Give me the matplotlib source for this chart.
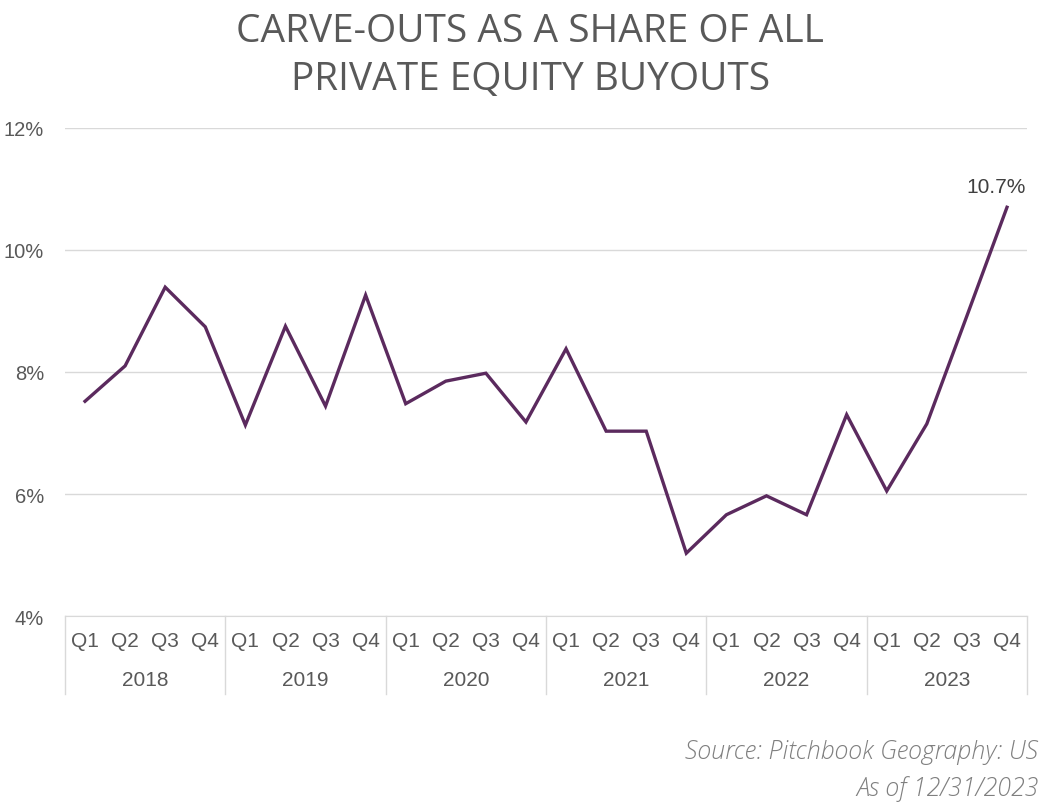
import matplotlib
matplotlib.use("Agg")
import matplotlib.pyplot as plt
from matplotlib.ticker import FuncFormatter

years = ["2018", "2019", "2020", "2021", "2022", "2023"]
quarters = ["Q1", "Q2", "Q3", "Q4"]
share = [7.52, 8.10, 9.39, 8.74,
         7.13, 8.75, 7.44, 9.26,
         7.48, 7.85, 7.98, 7.18,
         8.38, 7.03, 7.03, 5.03,
         5.66, 5.97, 5.66, 7.30,
         6.05, 7.15, 8.92, 10.70]

plt.rcParams['font.family'] = ['Liberation Sans', 'DejaVu Sans']

fig = plt.figure(figsize=(10.48, 8.03), dpi=100)
ax = fig.add_axes([0.062, 0.2316, 0.918, 0.6078])

x = list(range(len(share)))
ax.plot(x, share, color="#5B2A5E", linewidth=2.4, solid_joinstyle="miter")

ax.set_xlim(-0.5, len(share) - 0.5)
ax.set_ylim(4, 12)
ax.set_yticks([4, 6, 8, 10, 12])
ax.yaxis.set_major_formatter(FuncFormatter(lambda v, p: f"{v:.0f}%"))
ax.grid(axis="y", color="#D9D9D9", linewidth=1)
ax.set_axisbelow(True)
for s in ["top", "right", "left"]:
    ax.spines[s].set_visible(False)
ax.spines["bottom"].set_color("#D9D9D9")
ax.tick_params(axis="y", length=0, labelsize=14.5, labelcolor="#595959", pad=15)
ax.tick_params(axis="x", length=0, labelbottom=False)

# category axis: quarters and years
tr = ax.get_xaxis_transform()
for i in x:
    ax.text(i, -0.051, quarters[i % 4], transform=tr, ha="center", va="center",
            fontsize=15, color="#595959")
for j, yr in enumerate(years):
    ax.text(j * 4 + 1.5, -0.131, yr, transform=tr, ha="center", va="center",
            fontsize=15, color="#595959")
for j in range(len(years) + 1):
    ax.plot([j * 4 - 0.5, j * 4 - 0.5], [0, -0.16], transform=tr,
            color="#D9D9D9", linewidth=1, clip_on=False)

ax.annotate(f"{share[-1]:.1f}%", (x[-1], share[-1]), xytext=(-8, 15),
            textcoords="offset points", ha="center", va="center",
            fontsize=15, color="#404040")

fig.text(0.506, 0.96, "CARVE-OUTS AS A SHARE OF ALL", ha="center", va="center",
         fontsize=28, color="#595959", family="Open Sans")
fig.text(0.506, 0.90, "PRIVATE EQUITY BUYOUTS", ha="center", va="center",
         fontsize=28, color="#595959", family="Open Sans")

fig.text(0.991, 0.063, "Source: Pitchbook Geography: US", ha="right", va="center",
         fontsize=18, color="#7F7F7F", family="Open Sans", style="italic", weight="light")
fig.text(0.991, 0.018, "As of 12/31/2023", ha="right", va="center",
         fontsize=18, color="#7F7F7F", family="Open Sans", style="italic", weight="light")

fig.savefig("out.png", dpi=100)
